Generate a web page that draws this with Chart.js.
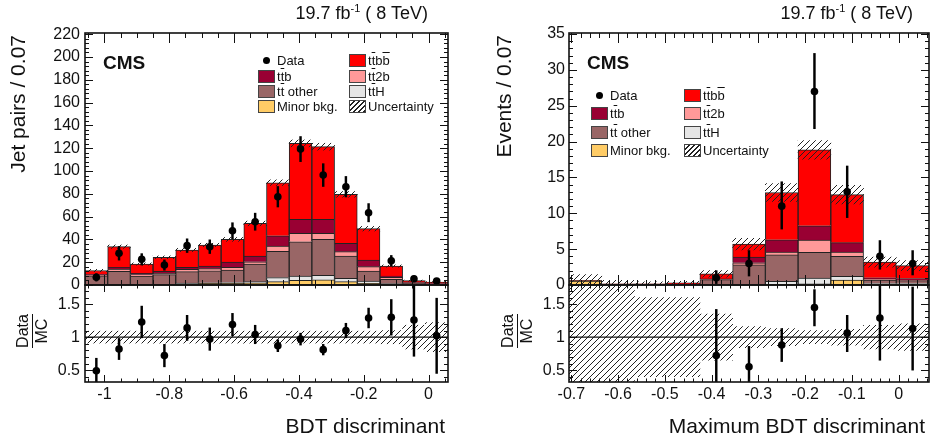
<!DOCTYPE html>
<html>
<head>
<meta charset="utf-8">
<script src="https://cdn.jsdelivr.net/npm/chart.js@4/dist/chart.umd.min.js"></script>
<style>
  body { margin: 0; width: 933px; height: 444px; background: #fff; position: relative; overflow: hidden;
         font-family: "Liberation Sans", Arial, Helvetica, sans-serif; color: #111; }
  canvas { position: absolute; }
  .t { position: absolute; white-space: nowrap; line-height: 1; }
  .ov { text-decoration: overline; }
  .ytitle { position: absolute; width: 200px; height: 24px; line-height: 24px; font-size: 21px; text-align: right;
            transform-origin: 0 0; transform: rotate(-90deg); white-space: nowrap; }
  .frac { position: absolute; width: 38px; height: 38px; font-size: 16px; line-height: 18px; text-align: center;
          transform: rotate(-90deg); }
  .frac .mc { border-top: 1.3px solid #111; margin: 0 2px; }
  .leg { position: absolute; font-size: 13px; line-height: 13px; white-space: nowrap; }
  .box { position: absolute; width: 15px; height: 11px; border: 1px solid #444; }
  .dot { position: absolute; width: 7px; height: 7px; border-radius: 50%; background: #000; }
</style>
</head>
<body>
<canvas id="lMain" width="460" height="300" style="left:0;top:0"></canvas>
<canvas id="lRatio" width="460" height="169" style="left:0;top:275px"></canvas>
<canvas id="rMain" width="463" height="300" style="left:470px;top:0"></canvas>
<canvas id="rRatio" width="463" height="169" style="left:470px;top:275px"></canvas>

<div class="t" style="right:505px;top:3px;font-size:18px">19.7 fb<sup style="font-size:11px;vertical-align:7px">-1</sup> ( 8 TeV)</div>
<div class="t" style="right:20px;top:3px;font-size:18px">19.7 fb<sup style="font-size:11px;vertical-align:7px">-1</sup> ( 8 TeV)</div>
<div class="t" style="left:103px;top:53px;font-size:19px;font-weight:bold">CMS</div>
<div class="t" style="left:587px;top:53px;font-size:19px;font-weight:bold">CMS</div>
<div class="ytitle" style="left:6px;top:235px">Jet pairs / 0.07</div>
<div class="ytitle" style="left:492px;top:235px">Events / 0.07</div>
<div class="frac" style="left:14px;top:312px"><div>Data</div><div class="mc">MC</div></div>
<div class="frac" style="left:499px;top:312px"><div>Data</div><div class="mc">MC</div></div>
<div class="t" style="right:488px;top:415px;font-size:21px">BDT discriminant</div>
<div class="t" style="right:8px;top:415px;font-size:21px">Maximum BDT discriminant</div>
<div id="legends"></div>

<script>
// ---- left panel: BDT discriminant, 16 bins of 0.07 ----
const centersL = [-1.025, -0.955, -0.885, -0.815, -0.745, -0.675, -0.605, -0.535,
                  -0.465, -0.395, -0.325, -0.255, -0.185, -0.115, -0.045, 0.025];
const minorL = [0.3, 0.3, 0.3, 0.4, 1.2, 1.5, 1.5, 2, 3, 4, 4.5, 3, 1.5, 0.5, 0.2, 0.1];
const ttHL   = [0.2, 0.2, 0.1, 0.2, 0.5, 0.5, 0.6, 0.9, 3.5, 3.9, 4, 2.8, 2, 0.7, 0.3, 0.2];
const otherL = [7.5, 11.5, 7.5, 8.5, 10, 10.5, 11, 15.5, 23, 30, 31.5, 19.6, 8.8, 3.8, 1, 0.6];
const tt2bL  = [0.6, 2, 1.2, 1.1, 2, 1.8, 2.4, 2, 4.7, 7.4, 5.3, 3.8, 3.8, 1.7, 0.3, 0.2];
const ttbL   = [0.8, 1.5, 1.1, 1.8, 1.8, 2.3, 4.7, 5, 9, 12.3, 12.3, 7.3, 5.8, 1.2, 0.4, 0.3];
const ttbbL  = [3.3, 18.1, 8.2, 12.3, 15.2, 18.5, 19.8, 28.6, 46.5, 66.6, 63.7, 43, 27.5, 8.7, 1.6, 1.2];
const uncL   = [1, 1.5, 1, 1.2, 1.4, 1.5, 1.7, 2, 2.5, 3, 3, 2.5, 2, 1, 0.5, 0.4];
const dataL  = [6.7, 27.8, 22.5, 17.5, 34.5, 33.6, 47.6, 55.5, 77.4, 119.2, 96.4, 86.2, 63.4, 21.3, 5.5, 3.5];
const errL   = [3.2, 6, 5, 4.5, 6, 6, 7, 7.5, 9, 11, 10, 9, 8, 4.6, 2.4, 2];
const ratioL    = [0.49, 0.82, 1.23, 0.72, 1.14, 0.97, 1.19, 1.04, 0.87, 0.97, 0.81, 1.10, 1.29, 1.30, 1.26, 1.02];
const ratioErrL = [0.19, 0.16, 0.24, 0.17, 0.19, 0.17, 0.17, 0.14, 0.09, 0.09, 0.08, 0.11, 0.15, 0.27, 0.55, 0.57];
const ratioUncL = [0.09, 0.09, 0.09, 0.09, 0.09, 0.09, 0.09, 0.09, 0.09, 0.09, 0.09, 0.09, 0.09, 0.1, 0.18, 0.22];
const xTicksL = [-1, -0.8, -0.6, -0.4, -0.2, 0];
const yTicksL = [0, 20, 40, 60, 80, 100, 120, 140, 160, 180, 200, 220];

// ---- right panel: maximum BDT discriminant, 11 bins of 0.07 ----
const centersR = [-0.67, -0.6, -0.53, -0.46, -0.39, -0.32, -0.25, -0.18, -0.11, -0.04, 0.03];
const minorR = [0.55, 0.05, 0.05, 0, 0.05, 0.05, 0.1, 0.15, 0.7, 0.1, 0.1];
const ttHR   = [0, 0, 0, 0, 0, 0.05, 0.4, 0.8, 0.5, 0.1, 0.1];
const otherR = [0.05, 0.05, 0.05, 0.1, 0.7, 2.7, 3.7, 3.6, 2.8, 0.5, 0.4];
const tt2bR  = [0, 0, 0, 0, 0.05, 0.3, 0.4, 1.7, 0.6, 0.1, 0.1];
const ttbR   = [0, 0, 0, 0.05, 0.05, 0.8, 1.7, 2.0, 1.3, 0.2, 0.2];
const ttbbR  = [0.05, 0.05, 0.05, 0.15, 0.7, 1.8, 6.6, 10.6, 6.7, 2.2, 1.8];
const uncR   = [0.8, 0.5, 0.3, 0.2, 0.45, 0.8, 1.25, 1.3, 1.3, 0.7, 0.7];
const dataR  = [null, null, null, null, 1, 3, 11, 27, 13, 4, 3];
const errLoR = [null, null, null, null, 0.8, 1.75, 3.2, 5.2, 3.6, 1.8, 1.6];
const errHiR = [null, null, null, null, 1.0, 1.8, 3.4, 5.3, 3.6, 2.2, 1.8];
const ratioR      = [null, null, null, null, 0.72, 0.55, 0.88, 1.45, 1.06, 1.29, 1.13];
const ratioErrLoR = [null, null, null, null, 0.55, 0.4, 0.25, 0.28, 0.28, 0.64, 0.63];
const ratioErrHiR = [null, null, null, null, 0.7, 0.31, 0.25, 0.27, 0.27, 0.6, 0.63];
const ratioUncR   = [1.1, 1.1, 0.6, 0.6, 0.35, 0.16, 0.13, 0.1, 0.12, 0.18, 0.2];
const xTicksR = [-0.7, -0.6, -0.5, -0.4, -0.3, -0.2, -0.1, 0];
const yTicksR = [0, 5, 10, 15, 20, 25, 30, 35];

const ratioTicks = [0.5, 1, 1.5];

const colors = { ttbb: '#ff0000', ttb: '#990033', tt2b: '#ff9999', other: '#996666', ttH: '#e5e5e5', minor: '#ffcc66' };

Chart.defaults.font.family = '"Liberation Sans", Arial, Helvetica, sans-serif';
Chart.defaults.font.size = 16;
Chart.defaults.color = '#111';

function hatch() {
  const c = document.createElement('canvas');
  c.width = 6; c.height = 6;
  const g = c.getContext('2d');
  g.strokeStyle = '#222';
  g.lineWidth = 1;
  g.beginPath();
  g.moveTo(0, 6); g.lineTo(6, 0);
  g.moveTo(-1, 1); g.lineTo(1, -1);
  g.moveTo(5, 7); g.lineTo(7, 5);
  g.stroke();
  return g.createPattern(c, 'repeat');
}
const hatchFill = hatch();

// ROOT style frame with inward ticks on all four sides
const frameTicks = {
  id: 'frameTicks',
  afterDatasetsDraw(chart, args, o) {
    const { ctx, chartArea: a, scales: { x, y } } = chart;
    const isMajor = (v, list) => list.some(m => Math.abs(m - v) < 1e-6);
    ctx.save();
    ctx.strokeStyle = '#111';
    ctx.lineWidth = 1;
    ctx.beginPath();
    for (let i = Math.ceil(x.min / o.xStep - 1e-6); i * o.xStep <= x.max + 1e-9; i++) {
      const v = i * o.xStep, px = Math.round(x.getPixelForValue(v)) + 0.5;
      const len = isMajor(v, o.xMajor) ? o.xLen : o.xLen / 2;
      ctx.moveTo(px, a.bottom); ctx.lineTo(px, a.bottom - len);
      ctx.moveTo(px, a.top); ctx.lineTo(px, a.top + len);
    }
    for (let i = Math.ceil(y.min / o.yStep - 1e-6); i * o.yStep <= y.max + 1e-9; i++) {
      const v = i * o.yStep, py = Math.round(y.getPixelForValue(v)) + 0.5;
      const len = isMajor(v, o.yMajor) ? o.yLen : o.yLen / 2;
      ctx.moveTo(a.left, py); ctx.lineTo(a.left + len, py);
      ctx.moveTo(a.right, py); ctx.lineTo(a.right - len, py);
    }
    ctx.stroke();
    ctx.lineWidth = 1.6;
    ctx.strokeRect(a.left, a.top, a.right - a.left, a.bottom - a.top);
    ctx.restore();
  }
};

const fmt = v => String(+(+v).toFixed(2));
// keep the plot frame exactly where the layout padding puts it
const noMargins = s => { s.paddingTop = 0; s.paddingBottom = 0; s.paddingLeft = 0; s.paddingRight = 0; };

function mainChart(id, p) {
  const stacks = [
    { values: p.minor, color: colors.minor },
    { values: p.ttH, color: colors.ttH },
    { values: p.other, color: colors.other },
    { values: p.tt2b, color: colors.tt2b },
    { values: p.ttb, color: colors.ttb },
    { values: p.ttbb, color: colors.ttbb }
  ];
  const total = p.centers.map((c, i) => stacks.reduce((s, st) => s + st.values[i], 0));
  const pts = [], err = [];
  p.centers.forEach((c, i) => {
    if (p.data[i] == null) return;
    pts.push({ x: c, y: p.data[i] });
    err.push({ x: c, y: [p.data[i] - p.errLo[i], p.data[i] + p.errHi[i]] });
  });
  const datasets = [
    { type: 'line', data: pts, showLine: false, pointRadius: 3.8, pointBackgroundColor: '#000',
      pointBorderWidth: 0, borderColor: '#000', stack: 'pts', order: 0 },
    { type: 'bar', data: err, backgroundColor: '#000', maxBarThickness: 1.8, stack: 'err', order: 1 },
    { type: 'bar', data: p.centers.map((c, i) => ({ x: c, y: [total[i] - p.unc[i], total[i] + p.unc[i]] })),
      backgroundColor: hatchFill, borderWidth: 0, stack: 'unc', order: 2 }
  ];
  stacks.forEach(st => datasets.push({
    type: 'bar', data: p.centers.map((c, i) => ({ x: c, y: st.values[i] })),
    backgroundColor: st.color, borderColor: '#222', borderWidth: 1, stack: 'mc', order: 3
  }));

  return new Chart(document.getElementById(id), {
    type: 'bar',
    data: { datasets },
    options: {
      responsive: false, animation: false, events: [],
      layout: { padding: { top: 33, right: p.padRight, bottom: 15, left: 0 } },
      datasets: { bar: { grouped: false, barPercentage: 1, categoryPercentage: 1 } },
      plugins: {
        legend: { display: false }, tooltip: { enabled: false },
        frameTicks: { xMajor: p.xTicks, xStep: p.xStep, xLen: 10, yMajor: p.yTicks, yStep: p.yStep, yLen: 8 }
      },
      scales: {
        x: {
          type: 'linear', min: p.xMin, max: p.xMax, offset: false,
          grid: { display: false, drawTicks: false }, border: { display: false },
          ticks: { display: false },
          afterBuildTicks: s => { s.ticks = p.xTicks.map(v => ({ value: v })); },
          afterFit: noMargins
        },
        y: {
          stacked: true, min: 0, max: p.yMax,
          grid: { display: false, drawTicks: false }, border: { display: false },
          ticks: { padding: p.tickPad, autoSkip: false, callback: fmt },
          afterBuildTicks: s => { s.ticks = p.yTicks.map(v => ({ value: v })); },
          afterFit: s => { noMargins(s); s.width = p.axisW; }
        }
      }
    },
    plugins: [frameTicks]
  });
}

function ratioChart(id, p) {
  const pts = [], err = [];
  p.centers.forEach((c, i) => {
    if (p.ratio[i] == null) return;
    pts.push({ x: c, y: p.ratio[i] });
    err.push({ x: c, y: [p.ratio[i] - p.errLo[i], p.ratio[i] + p.errHi[i]] });
  });
  const datasets = [
    { type: 'line', data: pts, showLine: false, pointRadius: 3.8, pointBackgroundColor: '#000',
      pointBorderWidth: 0, borderColor: '#000', order: 0 },
    { type: 'bar', data: err, backgroundColor: '#000', maxBarThickness: 1.8, order: 1 },
    { type: 'line', data: [{ x: p.xMin, y: 1 }, { x: p.xMax, y: 1 }], borderColor: '#111', borderWidth: 1.2,
      pointRadius: 0, order: 2 },
    { type: 'bar', data: p.centers.map((c, i) => ({ x: c, y: [1 - p.unc[i], 1 + p.unc[i]] })),
      backgroundColor: hatchFill, borderWidth: 0, order: 3 }
  ];
  return new Chart(document.getElementById(id), {
    type: 'bar',
    data: { datasets },
    options: {
      responsive: false, animation: false, events: [],
      layout: { padding: { top: 10, right: p.padRight, bottom: 0, left: 0 } },
      datasets: { bar: { grouped: false, barPercentage: 1, categoryPercentage: 1 } },
      plugins: {
        legend: { display: false }, tooltip: { enabled: false },
        frameTicks: { xMajor: p.xTicks, xStep: p.xStep, xLen: 7, yMajor: ratioTicks, yStep: 0.1, yLen: 8 }
      },
      scales: {
        x: {
          type: 'linear', min: p.xMin, max: p.xMax, offset: false,
          grid: { display: false, drawTicks: false }, border: { display: false },
          ticks: { padding: 3, autoSkip: false, maxRotation: 0, callback: fmt },
          afterBuildTicks: s => { s.ticks = p.xTicks.map(v => ({ value: v })); },
          afterFit: s => { noMargins(s); s.height = 62; }
        },
        y: {
          min: 0.32, max: 1.79,
          grid: { display: false, drawTicks: false }, border: { display: false },
          ticks: { padding: p.tickPad, autoSkip: false, callback: fmt },
          afterBuildTicks: s => { s.ticks = ratioTicks.map(v => ({ value: v })); },
          afterFit: s => { noMargins(s); s.width = p.axisW; }
        }
      }
    },
    plugins: [frameTicks]
  });
}

mainChart('lMain', {
  centers: centersL, minor: minorL, ttH: ttHL, other: otherL, tt2b: tt2bL, ttb: ttbL, ttbb: ttbbL,
  unc: uncL, data: dataL, errLo: errL, errHi: errL,
  xMin: -1.06, xMax: 0.06, xTicks: xTicksL, xStep: 0.05, yMax: 221, yTicks: yTicksL, yStep: 4,
  axisW: 85, padRight: 12, tickPad: 5
});
ratioChart('lRatio', {
  centers: centersL, ratio: ratioL, errLo: ratioErrL, errHi: ratioErrL, unc: ratioUncL,
  xMin: -1.06, xMax: 0.06, xTicks: xTicksL, xStep: 0.05, axisW: 85, padRight: 12, tickPad: 5
});
mainChart('rMain', {
  centers: centersR, minor: minorR, ttH: ttHR, other: otherR, tt2b: tt2bR, ttb: ttbR, ttbb: ttbbR,
  unc: uncR, data: dataR, errLo: errLoR, errHi: errHiR,
  xMin: -0.705, xMax: 0.065, xTicks: xTicksR, xStep: 0.02, yMax: 35.15, yTicks: yTicksR, yStep: 1,
  axisW: 99, padRight: 1, tickPad: 4
});
ratioChart('rRatio', {
  centers: centersR, ratio: ratioR, errLo: ratioErrLoR, errHi: ratioErrHiR, unc: ratioUncR,
  xMin: -0.705, xMax: 0.065, xTicks: xTicksR, xStep: 0.02, axisW: 99, padRight: 1, tickPad: 4
});

// legends (ROOT TLegend style, two columns)
const legendItems = [
  { col: 0, row: 0, kind: 'dot', label: 'Data' },
  { col: 1, row: 0, kind: colors.ttbb, label: 't<span class="ov">t</span>b<span class="ov">b</span>' },
  { col: 0, row: 1, kind: colors.ttb, label: 't<span class="ov">t</span>b' },
  { col: 1, row: 1, kind: colors.tt2b, label: 't<span class="ov">t</span>2b' },
  { col: 0, row: 2, kind: colors.other, label: 't<span class="ov">t</span> other' },
  { col: 1, row: 2, kind: colors.ttH, label: 't<span class="ov">t</span>H' },
  { col: 0, row: 3, kind: colors.minor, label: 'Minor bkg.' },
  { col: 1, row: 3, kind: 'hatch', label: 'Uncertainty' }
];
function drawLegend(boxX, rows) {
  const root = document.getElementById('legends');
  legendItems.forEach(it => {
    const bx = boxX[it.col], cy = rows[it.row];
    let sym;
    if (it.kind === 'dot') {
      sym = `<div class="dot" style="left:${bx + 5}px;top:${cy - 3.5}px"></div>`;
    } else if (it.kind === 'hatch') {
      sym = `<div class="box" style="left:${bx}px;top:${cy - 6}px;background:repeating-linear-gradient(135deg,#fff 0 2.5px,#222 2.5px 3.6px)"></div>`;
    } else {
      sym = `<div class="box" style="left:${bx}px;top:${cy - 6}px;background:${it.kind}"></div>`;
    }
    root.insertAdjacentHTML('beforeend', sym +
      `<div class="leg" style="left:${bx + 19}px;top:${cy - 6.5}px">${it.label}</div>`);
  });
}
drawLegend([258, 349], [60, 76, 91, 106]);
drawLegend([591, 684], [95, 113, 132, 150]);
</script>
</body>
</html>
